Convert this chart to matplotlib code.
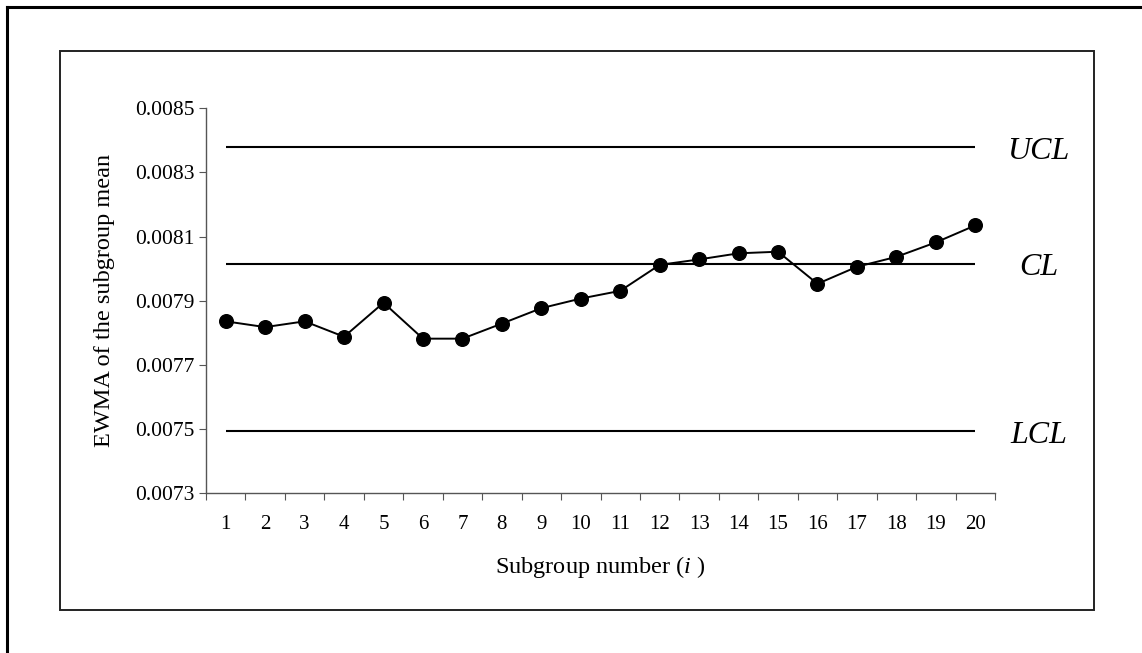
import matplotlib
matplotlib.use("Agg")
import matplotlib.pyplot as plt
from matplotlib.lines import Line2D
from matplotlib.transforms import offset_copy
import numpy as np

plt.rcParams['font.family'] = ['Liberation Serif', 'DejaVu Serif']
plt.rcParams['mathtext.fontset'] = 'custom'
plt.rcParams['mathtext.rm'] = 'Liberation Serif'
plt.rcParams['mathtext.it'] = 'Liberation Serif:italic'

subgroups = list(range(1, 21))
ewma = [0.007836, 0.007818, 0.007836, 0.007788, 0.007894, 0.007782, 0.007782,
        0.007829, 0.007877, 0.007907, 0.007931, 0.008012, 0.008029, 0.008048,
        0.008053, 0.007953, 0.008006, 0.008037, 0.008082, 0.008135]
limit_names = ['UCL', 'CL', 'LCL']
limit_values = [0.008378, 0.008016, 0.007494]
yticks = [0.0073, 0.0075, 0.0077, 0.0079, 0.0081, 0.0083, 0.0085]
ytick_labels = ['0.0073', '0.0075', '0.0077', '0.0079', '0.0081', '0.0083', '0.0085']

W, H = 1142, 653
fig = plt.figure(figsize=(W / 100, H / 100), dpi=100)

def fx(px):
    return px / W

def fy(py):
    return 1 - py / H

# outer frame (top and left edges visible)
fig.add_artist(Line2D([fx(7), fx(1142)], [fy(7), fy(7)], color='black', lw=2.2, transform=fig.transFigure))
fig.add_artist(Line2D([fx(7), fx(7)], [fy(7), fy(653)], color='black', lw=2.2, transform=fig.transFigure))
# inner chart box
fig.add_artist(plt.Rectangle((fx(60), fy(610)), fx(1094) - fx(60), fy(51) - fy(610),
                             fill=False, edgecolor='#222222', lw=1.4, transform=fig.transFigure))

ax = fig.add_axes([fx(206), fy(493.3), fx(995) - fx(206), fy(108.3) - fy(493.3)])
ax.set_xlim(0.5, 20.5)
ax.set_ylim(0.0073, 0.0085)

label_tr = offset_copy(ax.transData, fig=fig, x=0, y=-4, units='dots')
for name, val in zip(limit_names, limit_values):
    ax.plot([subgroups[0], subgroups[-1]], [val, val], color='black', lw=1.5, solid_capstyle='butt')
    ax.text(21.6, val, name, fontsize=23, style='italic', ha='center', va='center',
            clip_on=False, transform=label_tr)

ax.plot(subgroups, ewma, color='black', lw=1.4, marker='o', markersize=9.8,
        markerfacecolor='black', markeredgecolor='black')

for s in ['top', 'right']:
    ax.spines[s].set_visible(False)
for s in ['left', 'bottom']:
    ax.spines[s].set_color('#555555')
    ax.spines[s].set_linewidth(1.0)

ax.set_yticks(yticks)
ax.set_yticklabels(ytick_labels)
ax.set_xticks(np.arange(0.5, 21, 1.0))
ax.set_xticklabels([])
ax.set_xticks(subgroups, minor=True)
ax.set_xticklabels([str(s) for s in subgroups], minor=True)
ax.tick_params(axis='x', which='major', length=5, color='#555555', direction='out')
ax.tick_params(axis='x', which='minor', length=0, labelsize=15, pad=15.5)
ax.tick_params(axis='y', length=5, color='#555555', labelsize=15.5, pad=3)

ax.set_ylabel('EWMA of the subgroup mean', fontsize=17.5, labelpad=15)
ax.set_xlabel('Subgroup number ($\\mathit{i}$ )', fontsize=17.5, labelpad=14.5)

fig.savefig('out.png', dpi=100)
